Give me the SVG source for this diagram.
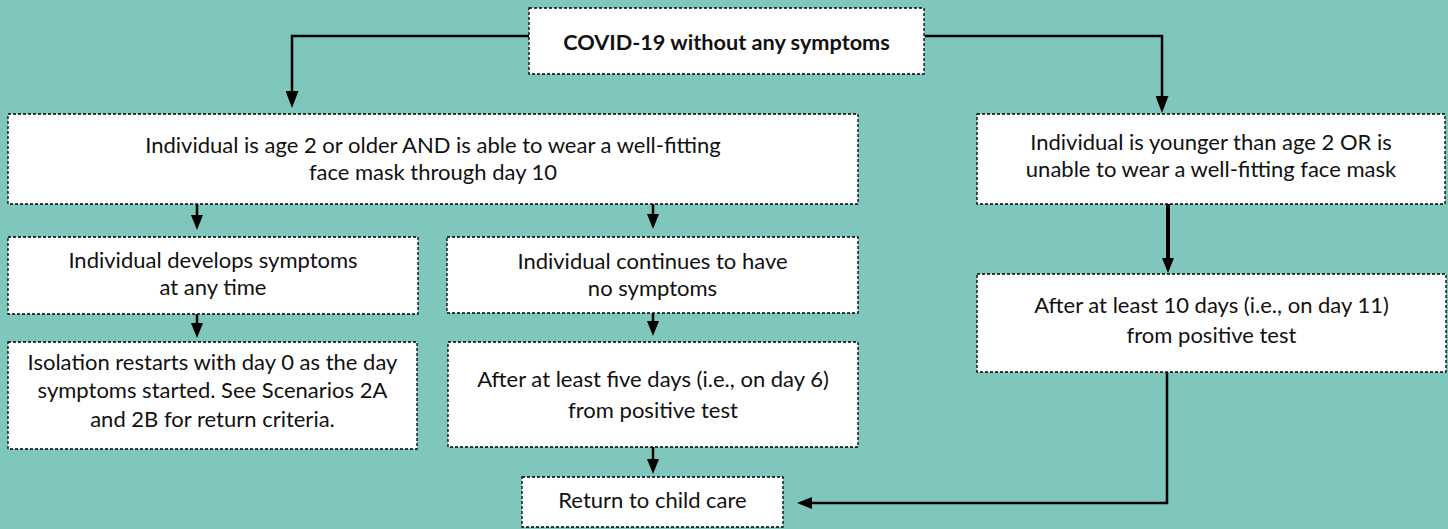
<svg xmlns="http://www.w3.org/2000/svg" width="1448" height="529" viewBox="0 0 1448 529">
  <defs>
    <style>
      .box { fill: #ffffff; stroke: #000000; stroke-width: 1.3; stroke-dasharray: 3 2; }
      .t { font-family: Lato, "Open Sans", "Liberation Sans", sans-serif; font-size: 22px; fill: #111111; text-anchor: middle; }
      .b { font-weight: bold; font-size: 21.7px; }
      .c { fill: none; stroke: #000000; stroke-width: 2.5; }
      .thick { stroke-width: 4; }
    </style>
    <marker id="ah" markerUnits="userSpaceOnUse" viewBox="0 0 15 12" refX="5" refY="6" markerWidth="15" markerHeight="12" orient="auto">
      <path d="M0,0 L15,6 L0,12 Z" fill="#000000"/>
    </marker>
    <marker id="ahl" markerUnits="userSpaceOnUse" viewBox="0 0 17 13" refX="6" refY="6.5" markerWidth="17" markerHeight="13" orient="auto">
      <path d="M0,0 L17,6.5 L0,13 Z" fill="#000000"/>
    </marker>
  </defs>
  <rect x="0" y="0" width="1448" height="529" fill="#7fc7bc"/>

  <g id="connectors">
    <path class="c" d="M529,36 H292 V97" marker-end="url(#ahl)"/>
    <path class="c" d="M925,36 H1162 V102" marker-end="url(#ahl)"/>
    <path class="c" d="M197,204 V220" marker-end="url(#ah)"/>
    <path class="c" d="M653,204 V219" marker-end="url(#ah)"/>
    <path class="c" d="M197,314 V328" marker-end="url(#ah)"/>
    <path class="c" d="M653,313 V326" marker-end="url(#ah)"/>
    <path class="c" d="M653,447 V464" marker-end="url(#ah)"/>
    <path class="c thick" d="M1168,204 V263" marker-end="url(#ah)"/>
    <path class="c" d="M1167,372 V503 H807" marker-end="url(#ah)"/>
  </g>

  <g id="node-start">
    <rect class="box" x="529" y="8" width="395" height="66"/>
    <text class="t b" x="726.5" y="50">COVID-19 without any symptoms</text>
  </g>

  <g id="node-older">
    <rect class="box" x="8" y="114" width="850" height="90"/>
    <text class="t" x="433" y="153">Individual is age 2 or older AND is able to wear a well-fitting</text>
    <text class="t" x="433" y="180">face mask through day 10</text>
  </g>

  <g id="node-younger">
    <rect class="box" x="977" y="114" width="468" height="90"/>
    <text class="t" x="1211" y="150">Individual is younger than age 2 OR is</text>
    <text class="t" x="1211" y="177">unable to wear a well-fitting face mask</text>
  </g>

  <g id="node-develops">
    <rect class="box" x="8" y="237" width="410" height="77"/>
    <text class="t" x="213" y="268">Individual develops symptoms</text>
    <text class="t" x="213" y="295">at any time</text>
  </g>

  <g id="node-continues">
    <rect class="box" x="447" y="237" width="411" height="76"/>
    <text class="t" x="652.5" y="269">Individual continues to have</text>
    <text class="t" x="652.5" y="296">no symptoms</text>
  </g>

  <g id="node-isolation">
    <rect class="box" x="8" y="342" width="409" height="107"/>
    <text class="t" x="212.5" y="370">Isolation restarts with day 0 as the day</text>
    <text class="t" x="212.5" y="398">symptoms started. See Scenarios 2A</text>
    <text class="t" x="212.5" y="427">and 2B for return criteria.</text>
  </g>

  <g id="node-five-days">
    <rect class="box" x="448" y="342" width="410" height="105"/>
    <text class="t" x="653" y="387">After at least five days (i.e., on day 6)</text>
    <text class="t" x="653" y="418">from positive test</text>
  </g>

  <g id="node-ten-days">
    <rect class="box" x="977" y="274" width="469" height="98"/>
    <text class="t" x="1211.5" y="313">After at least 10 days (i.e., on day 11)</text>
    <text class="t" x="1211.5" y="343">from positive test</text>
  </g>

  <g id="node-return">
    <rect class="box" x="522" y="477" width="261" height="50"/>
    <text class="t" x="652.5" y="508">Return to child care</text>
  </g>
</svg>
